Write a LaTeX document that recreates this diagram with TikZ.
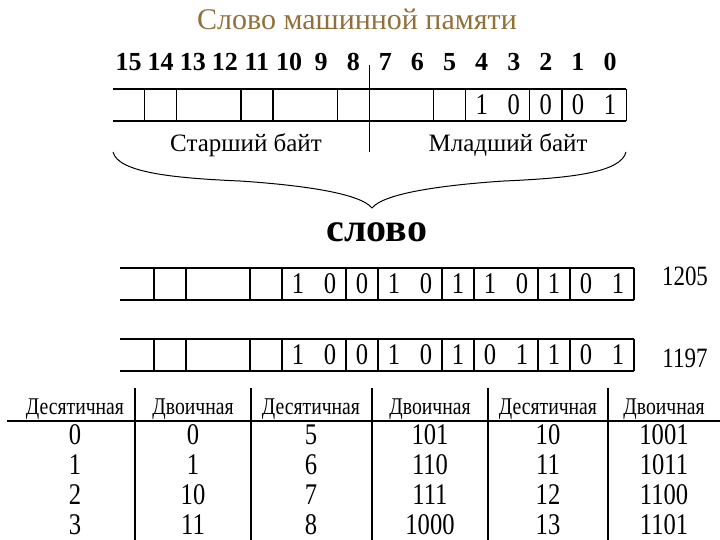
\documentclass[tikz,border=0pt]{standalone}
\usepackage{fontspec}
\setmainfont{Liberation Serif}
\newfontfamily\narrowserif{Liberation Serif}[FakeStretch=0.82]
\usetikzlibrary{positioning}
\definecolor{titlebrown}{RGB}{145,112,58}

\begin{document}
\begin{tikzpicture}
[
	x=1pt, y=-1pt,
	reg/.style={line width=1.2},
	bitnum/.style={font=\fontsize{26}{30}\selectfont\bfseries},
	digit/.style={font=\narrowserif\fontsize{30}{34}\selectfont},
	lbl/.style={font=\fontsize{25}{30}\selectfont, anchor=base},
	hdr/.style={font=\narrowserif\fontsize{24}{28}\selectfont, anchor=base},
	cell/.style={font=\narrowserif\fontsize{30}{34}\selectfont}
]

\useasboundingbox (0,0) rectangle (720,540);

\node[font=\fontsize{30}{36}\selectfont, text=titlebrown, anchor=base] (title) at (357,30) {Слово машинной памяти};

\foreach \b in {0,...,15}
	\node[bitnum] (n\b) at ({128.55+32.1*(15-\b)},62) {\b};

\draw[reg] (112.5,89) -- (626.1,89) (112.5,121) -- (626.1,121);
\foreach \k in {1,2,4,5,7,10,11,13,14,16}
	\draw[reg] ({112.5+32.1*\k},89) -- ({112.5+32.1*\k},121);
\draw[reg] (369.3,65) -- (369.3,152);

\foreach \b/\v in {4/1,3/0,2/0,1/0,0/1}
	\node[digit] (w\b) at ({128.55+32.1*(15-\b)},105) {\v};

\node[lbl] (hi) at (246,152) {Старший байт};
\node[lbl] (lo) at (508,152) {Младший байт};

\draw[line width=1] (113,152) .. controls (118,172) and (170,178) .. (240,181)
	.. controls (300,185) and (360,193) .. (372,208)
	.. controls (384,193) and (444,185) .. (504,181)
	.. controls (574,178) and (621,172) .. (626,152);

\node[font=\fontsize{40}{44}\selectfont\bfseries] (word) at (377,232) {слово};

\draw[reg] (120,268) -- (634,268) (120,300) -- (634,300);
\foreach \k in {1,2,4,5,7,8,10,11,13,14,16}
	\draw[reg] ({122+32*\k},268) -- ({122+32*\k},300);
\foreach \v [count=\i from 5] in {1,0,0,1,0,1,1,0,1,0,1}
	\node[digit] (a\i) at ({138+32*\i},284) {\v};
\node[lbl, font=\narrowserif\fontsize{28}{32}\selectfont] (na) at (685,285) {1205};

\draw[reg] (120,339) -- (634,339) (120,371) -- (634,371);
\foreach \k in {1,2,4,5,7,8,10,11,13,14,16}
	\draw[reg] ({122+32*\k},339) -- ({122+32*\k},371);
\foreach \v [count=\i from 5] in {1,0,0,1,0,1,0,1,1,0,1}
	\node[digit] (c\i) at ({138+32*\i},355) {\v};
\node[lbl, font=\narrowserif\fontsize{28}{32}\selectfont] (nc) at (685,367) {1197};

\draw[reg] (7,421) -- (720,421);
\foreach \x in {135,251,372,488,608}
	\draw[reg] (\x,388) -- (\x,540);
\foreach \x/\h [count=\c] in {75/Десятичная,193/Двоичная,311/Десятичная,430/Двоичная,548/Десятичная,664/Двоичная}
	\node[hdr] (h\c) at (\x,414) {\h};

\foreach \a/\b/\c/\d/\e/\f [count=\r] in {0/0/5/101/10/1001,1/1/6/110/11/1011,2/10/7/111/12/1100,3/11/8/1000/13/1101}
{
	\node[cell] (t\r-1) at (75,{405+30*\r}) {\a};
	\node[cell] (t\r-2) at (193,{405+30*\r}) {\b};
	\node[cell] (t\r-3) at (311,{405+30*\r}) {\c};
	\node[cell] (t\r-4) at (430,{405+30*\r}) {\d};
	\node[cell] (t\r-5) at (548,{405+30*\r}) {\e};
	\node[cell] (t\r-6) at (664,{405+30*\r}) {\f};
}

\end{tikzpicture}
\end{document}
